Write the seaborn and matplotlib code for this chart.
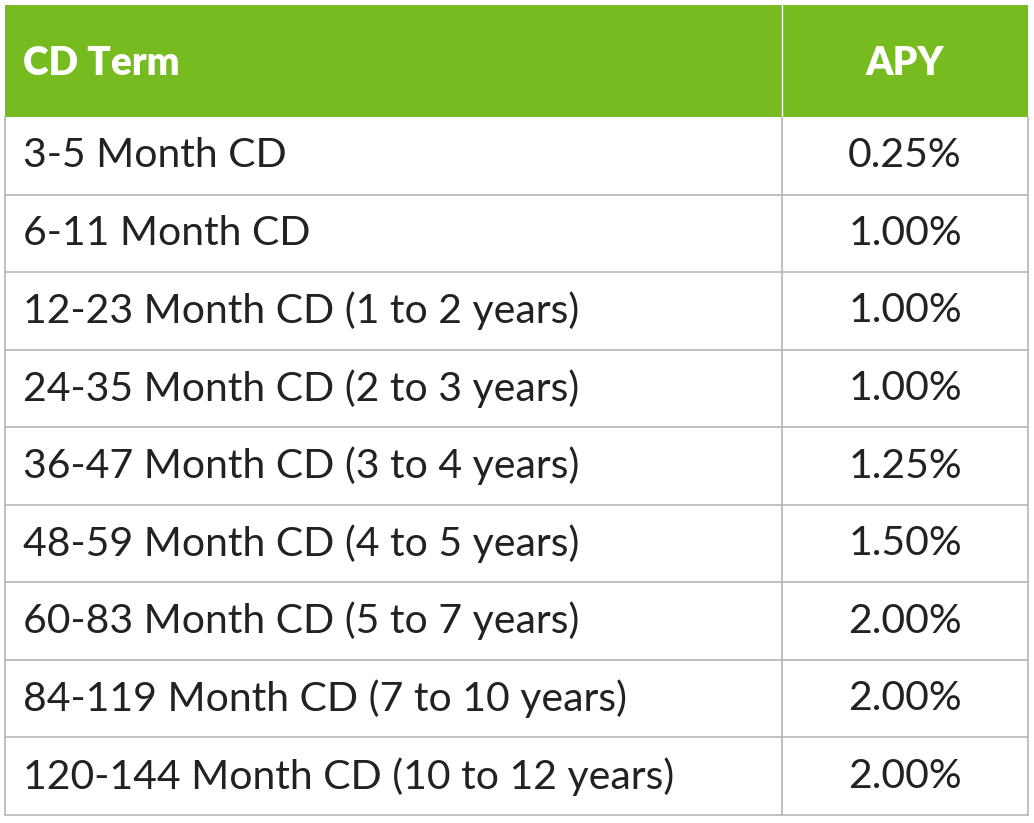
import matplotlib
matplotlib.use("Agg")
import matplotlib.pyplot as plt
import seaborn as sns
from matplotlib.patches import Rectangle

sns.set_theme(style="white")

header = ["CD Term", "APY"]
terms = ["3-5 Month CD", "6-11 Month CD", "12-23 Month CD (1 to 2 years)",
         "24-35 Month CD (2 to 3 years)", "36-47 Month CD (3 to 4 years)",
         "48-59 Month CD (4 to 5 years)", "60-83 Month CD (5 to 7 years)",
         "84-119 Month CD (7 to 10 years)", "120-144 Month CD (10 to 12 years)"]
apy = ["0.25%", "1.00%", "1.00%", "1.00%", "1.25%", "1.50%", "2.00%", "2.00%", "2.00%"]

fig = plt.figure(figsize=(10.34, 8.23), dpi=100)
ax = fig.add_axes([0, 0, 1, 1])
ax.set_xlim(0, 1034); ax.set_ylim(823, 0); ax.axis("off")

x0, x1, x2 = 5, 782, 1028
top, hdr_bot, bot = 5, 117, 815
rh = (bot - hdr_bot) / len(terms)
green = "#76bc21"; grid = "#b5b5b5"

ax.add_patch(Rectangle((x0, top), x2 - x0, hdr_bot - top, color=green, lw=0))
ax.plot([x1, x1], [top, hdr_bot], color="white", lw=1)
ax.text(x0 + 18, (top + hdr_bot) / 2 + 2, header[0], color="white", fontsize=28,
        fontweight="heavy", family="Lato", va="center", ha="left")
ax.text((x1 + x2) / 2, (top + hdr_bot) / 2 + 2, header[1], color="white", fontsize=28,
        fontweight="heavy", family="Lato", va="center", ha="center")

for i, (t, a) in enumerate(zip(terms, apy)):
    y = hdr_bot + i * rh
    ax.plot([x0, x2], [y + rh, y + rh], color=grid, lw=1.2)
    ax.text(x0 + 18, y + rh / 2, t, fontsize=29.5, family="Lato", color="#222222",
            va="center", ha="left")
    ax.text((x1 + x2) / 2, y + rh / 2, a, fontsize=29.5, family="Lato", color="#222222",
            va="center", ha="center")
ax.plot([x0, x0], [hdr_bot, bot], color=grid, lw=1.2)
ax.plot([x2, x2], [hdr_bot, bot], color=grid, lw=1.2)
ax.plot([x1, x1], [hdr_bot, bot], color=grid, lw=1.2)

fig.savefig("out.png", dpi=100)
